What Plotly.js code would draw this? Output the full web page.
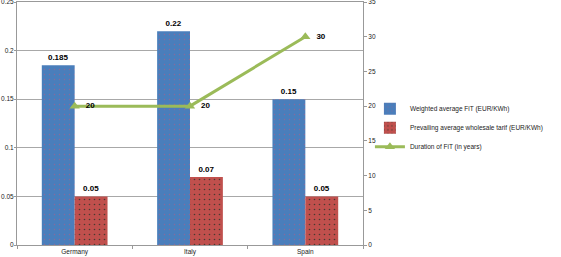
<!DOCTYPE html>
<html>
<head>
<meta charset="utf-8">
<script src="https://cdn.plot.ly/plotly-3.0.1.min.js"></script>
<style>html,body{margin:0;padding:0;background:#fff;}#chart{width:561px;height:257px;}</style>
</head>
<body>
<div id="chart"></div>
<script>
var categories = ["Germany", "Italy", "Spain"];
var weightedFiT = [0.185, 0.22, 0.15];
var wholesaleTariff = [0.05, 0.07, 0.05];
var durationYears = [20, 20, 30];
var seriesNames = [
  "Weighted average FiT (EUR/KWh)",
  "Prevailing average wholesale tarif (EUR/KWh)",
  "Duration of FiT (in years)"
];
var leftTicks = [0, 0.05, 0.1, 0.15, 0.2, 0.25];
var leftTickText = ["0", "0.05", "0.1", "0.15", "0.2", "0.25"];
var rightTicks = [0, 5, 10, 15, 20, 25, 30, 35];

var labelFont = {family: "Liberation Sans, Arial, sans-serif", size: 8, color: "#000", weight: "bold"};

var traces = [
  {
    type: "bar", name: seriesNames[0], x: categories, y: weightedFiT,
    marker: {color: "#4a7ebb", line: {width: 0},
      pattern: {shape: ".", fillmode: "replace", bgcolor: "#4a7ebb", fgcolor: "#8a6a9a", size: 5, solidity: 0.06}},
    text: weightedFiT.map(String), textposition: "outside", cliponaxis: false,
    textfont: labelFont
  },
  {
    type: "bar", name: seriesNames[1], x: categories, y: wholesaleTariff,
    marker: {color: "#c0504d", line: {width: 0},
      pattern: {shape: ".", fillmode: "replace", bgcolor: "#c0504d", fgcolor: "#4a3a30", size: 5, solidity: 0.08}},
    text: wholesaleTariff.map(String), textposition: "outside", cliponaxis: false,
    textfont: labelFont
  },
  {
    type: "scatter", mode: "lines+markers+text", name: seriesNames[2],
    x: categories, y: durationYears, yaxis: "y2",
    line: {color: "#9bbb59", width: 3},
    marker: {symbol: "triangle-up", size: 9, color: "#9bbb59"},
    text: durationYears.map(s => "  " + s), textposition: "middle right",
    textfont: labelFont, cliponaxis: false
  }
];

var tickFont = {family: "Liberation Sans, Arial, sans-serif", size: 6.5, color: "#222"};

var layout = {
  width: 561, height: 257,
  margin: {l: 17, r: 198, t: 2, b: 12, pad: 0, autoexpand: false},
  paper_bgcolor: "#fff", plot_bgcolor: "#fff",
  barmode: "group", bargap: 0.43, bargroupgap: 0,
  showlegend: true,
  legend: {x: 1.02, xanchor: "left", y: 0.62, yanchor: "top",
    font: {family: "Liberation Sans, Arial, sans-serif", size: 6.5, color: "#222"},
    bgcolor: "rgba(0,0,0,0)", tracegroupgap: 0, itemwidth: 30},
  xaxis: {
    type: "category", showline: true, linecolor: "#999", linewidth: 1, mirror: true,
    ticks: "outside", tickson: "boundaries", ticklen: 3, tickcolor: "#999",
    tickfont: tickFont, showgrid: false, zeroline: false
  },
  yaxis: {
    range: [0, 0.25], tickvals: leftTicks, ticktext: leftTickText,
    showgrid: true, gridcolor: "#a8a8a8", gridwidth: 1,
    showline: true, linecolor: "#999", linewidth: 1,
    ticks: "outside", ticklen: 2, tickcolor: "#999",
    tickfont: tickFont, zeroline: false, ticklabelstandoff: -1,
    ticklabeloverflow: "allow"
  },
  yaxis2: {
    range: [0, 35], tickvals: rightTicks, overlaying: "y", side: "right",
    showgrid: false, showline: true, linecolor: "#999", linewidth: 1,
    ticks: "outside", ticklen: 3, tickcolor: "#999",
    tickfont: tickFont, zeroline: false, ticklabeloverflow: "allow"
  }
};

Plotly.newPlot("chart", traces, layout, {displayModeBar: false, staticPlot: true});
</script>
</body>
</html>
